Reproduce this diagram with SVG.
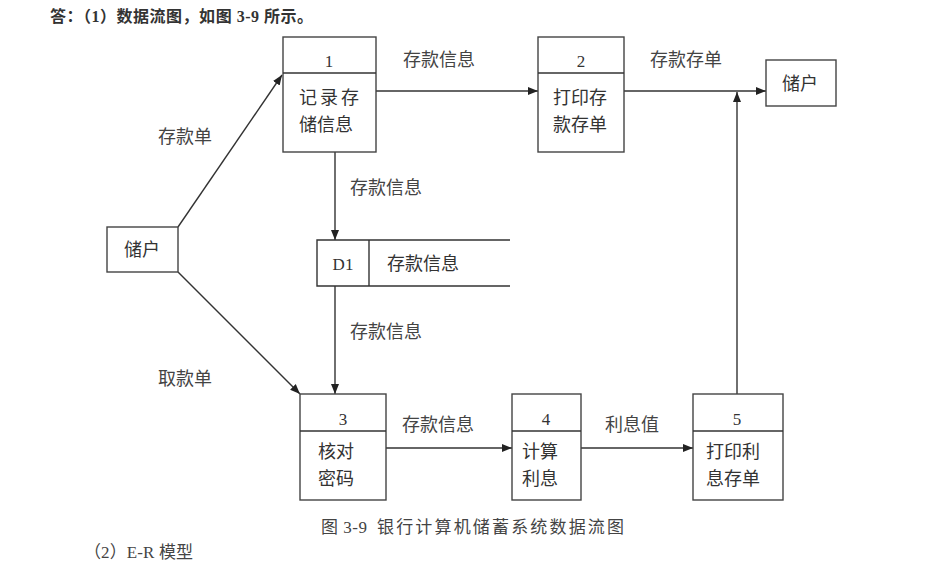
<svg xmlns="http://www.w3.org/2000/svg" width="933" height="569" viewBox="0 0 933 569">
<defs>
<marker id="ah" viewBox="0 0 10 10" refX="10" refY="5" markerWidth="10" markerHeight="10" markerUnits="userSpaceOnUse" orient="auto">
<path d="M0,1 L10,5 L0,9 z" fill="#222"/>
</marker>
<style>
.box{fill:#fff;stroke:#444;stroke-width:1.4}
.ln{fill:none;stroke:#333;stroke-width:1.4}
.t{font-family:"Noto Sans CJK SC","Liberation Sans",sans-serif;font-size:18px;fill:#333}
.n{font-family:"Liberation Serif","Noto Sans CJK SC",serif;font-size:17px;fill:#333;text-anchor:middle}
.lb{font-family:"Noto Sans CJK SC","Liberation Sans",sans-serif;font-size:18px;fill:#444}
.hd{font-family:"Liberation Serif","Noto Sans CJK SC",serif;font-size:16px;fill:#333;font-weight:bold}
.cp{font-family:"Liberation Serif","Noto Sans CJK SC",serif;font-size:17px;fill:#444}
</style>
</defs>
<rect width="933" height="569" fill="#fff"/>
<text class="hd" x="50" y="22" textLength="263" lengthAdjust="spacing">答：（1）数据流图，如图 3-9 所示。</text>

<g id="connectors">
<line class="ln" x1="178" y1="227" x2="282" y2="75" marker-end="url(#ah)"/>
<line class="ln" x1="178" y1="272" x2="300" y2="394" marker-end="url(#ah)"/>
<line class="ln" x1="376" y1="91" x2="538" y2="91" marker-end="url(#ah)"/>
<line class="ln" x1="624" y1="91" x2="766" y2="91" marker-end="url(#ah)"/>
<line class="ln" x1="737" y1="394" x2="737" y2="92" marker-end="url(#ah)"/>
<line class="ln" x1="335" y1="152" x2="335" y2="240" marker-end="url(#ah)"/>
<line class="ln" x1="335" y1="286" x2="335" y2="394" marker-end="url(#ah)"/>
<line class="ln" x1="386" y1="448" x2="512" y2="448" marker-end="url(#ah)"/>
<line class="ln" x1="581" y1="448" x2="693" y2="448" marker-end="url(#ah)"/>
<text class="lb" x="158" y="143">存款单</text>
<text class="lb" x="158" y="385">取款单</text>
<text class="lb" x="403" y="66">存款信息</text>
<text class="lb" x="650" y="66">存款存单</text>
<text class="lb" x="350" y="194">存款信息</text>
<text class="lb" x="350" y="338">存款信息</text>
<text class="lb" x="402" y="431">存款信息</text>
<text class="lb" x="605" y="431">利息值</text>
</g>

<g id="user-left">
<rect class="box" x="107" y="227" width="71" height="45"/>
<text class="t" x="124" y="256">储户</text>
</g>
<g id="user-right">
<rect class="box" x="766" y="60" width="70" height="46"/>
<text class="t" x="782" y="90">储户</text>
</g>
<g id="p1">
<rect class="box" x="283" y="37" width="93" height="115"/>
<line class="ln" x1="283" y1="73" x2="376" y2="73"/>
<text class="n" x="329" y="67">1</text>
<text class="t" x="299" y="104" letter-spacing="3">记录存</text>
<text class="t" x="299" y="131">储信息</text>
</g>
<g id="p2">
<rect class="box" x="538" y="37" width="86" height="115"/>
<line class="ln" x1="538" y1="73" x2="624" y2="73"/>
<text class="n" x="581" y="67">2</text>
<text class="t" x="553" y="104">打印存</text>
<text class="t" x="553" y="131">款存单</text>
</g>
<g id="d1">
<path class="ln" d="M510,240 H317 V286 H510"/>
<line class="ln" x1="369" y1="240" x2="369" y2="286"/>
<text class="n" x="343" y="270" font-size="16">D1</text>
<text class="t" x="387" y="270">存款信息</text>
</g>
<g id="p3">
<rect class="box" x="300" y="394" width="86" height="106"/>
<line class="ln" x1="300" y1="431" x2="386" y2="431"/>
<text class="n" x="343" y="425">3</text>
<text class="t" x="318" y="458">核对</text>
<text class="t" x="318" y="485">密码</text>
</g>
<g id="p4">
<rect class="box" x="512" y="394" width="69" height="106"/>
<line class="ln" x1="512" y1="431" x2="581" y2="431"/>
<text class="n" x="546" y="425">4</text>
<text class="t" x="522" y="458">计算</text>
<text class="t" x="522" y="485">利息</text>
</g>
<g id="p5">
<rect class="box" x="693" y="394" width="90" height="106"/>
<line class="ln" x1="693" y1="431" x2="783" y2="431"/>
<text class="n" x="737" y="425">5</text>
<text class="t" x="706" y="458">打印利</text>
<text class="t" x="706" y="485">息存单</text>
</g>

<text class="cp" x="321" y="533" textLength="46" lengthAdjust="spacing">图 3-9</text>
<text class="cp" x="377" y="533" textLength="247" lengthAdjust="spacing">银行计算机储蓄系统数据流图</text>
<text class="cp" x="84" y="558" font-size="16" textLength="109" lengthAdjust="spacing">（2）E-R 模型</text>
</svg>
